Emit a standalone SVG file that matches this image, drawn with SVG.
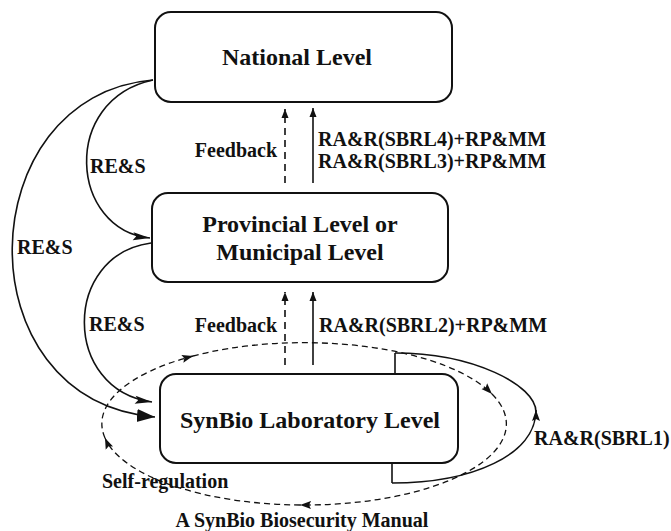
<svg xmlns="http://www.w3.org/2000/svg" width="671" height="531" viewBox="0 0 671 531">
<style>
.box{fill:#fff;stroke:#111;stroke-width:2}
.t{font-family:"Liberation Serif","Times New Roman",serif;font-weight:bold;fill:#111}
.tb{font-size:24px;text-anchor:middle}
.tl{font-size:20px}
.c{fill:none;stroke:#111;stroke-width:1.6}
.d{fill:none;stroke:#111;stroke-width:1.6;stroke-dasharray:7,5}
.e{fill:none;stroke:#111;stroke-width:1.3;stroke-dasharray:6,4}
</style>
<defs>
<marker id="am" markerUnits="userSpaceOnUse" markerWidth="20" markerHeight="20" viewBox="0 0 20 20" refX="18" refY="10" orient="auto"><path d="M1,6 L18,10 L1,14 L4,10 Z" fill="#111"/></marker>
<marker id="al" markerUnits="userSpaceOnUse" markerWidth="20" markerHeight="20" viewBox="0 0 20 20" refX="18" refY="10" orient="auto"><path d="M0,3.5 L18,10 L0,16.5 Z" fill="#111"/></marker>
<marker id="as" markerUnits="userSpaceOnUse" markerWidth="10" markerHeight="10" viewBox="0 0 10 10" refX="9" refY="5" orient="auto"><path d="M0,1.5 L9,5 L0,8.5 Z" fill="#111"/></marker>
<marker id="ae" markerUnits="userSpaceOnUse" markerWidth="12" markerHeight="12" viewBox="0 0 12 12" refX="11" refY="6" orient="auto"><path d="M0,2 L11,6 L0,10 L2,6 Z" fill="#111"/></marker>
</defs>

<g id="connectors">
  <!-- left RE&S curves -->
  <path class="c" d="M153,80 C60,100 70,230 150,238" marker-end="url(#am)"/>
  <path class="c" d="M153,80 C-30,95 -40,400 155,417" marker-end="url(#al)"/>
  <path class="c" d="M151,243 C62,255 62,390 152,402" marker-end="url(#am)"/>
  <!-- upper vertical arrows -->
  <path class="d" d="M285,183 L285,109" marker-end="url(#as)"/>
  <path class="c" d="M313,183 L313,108" marker-end="url(#as)"/>
  <!-- lower vertical arrows -->
  <path class="d" d="M285,365 L285,292" marker-end="url(#as)"/>
  <path class="c" d="M313,365 L313,292" marker-end="url(#as)"/>
  <!-- self-regulation dashed loop -->
  <path class="e" d="M105,438 A202,81 0 0 1 193,356" marker-end="url(#ae)"/>
  <path class="e" d="M193,356 A202,81 0 0 1 492,394" marker-end="url(#ae)"/>
  <path class="e" d="M492,394 A202,81 0 0 1 300,505" marker-end="url(#ae)"/>
  <path class="e" d="M300,505 A202,81 0 0 1 105,438" marker-end="url(#ae)"/>
  <!-- RA&R(SBRL1) loop -->
  <path class="c" d="M395,374 L395,353"/>
  <path class="c" d="M392,463 L392,483"/>
  <path class="c" d="M392,483 C472,483 536,455 536,410" marker-end="url(#ae)"/>
  <path class="c" d="M536,412 C536,385 473,353 395,353"/>
</g>

<g id="national">
  <rect class="box" x="155" y="12" width="297" height="90" rx="16"/>
  <text class="t tb" x="297" y="65">National Level</text>
</g>
<g id="provincial">
  <rect class="box" x="152" y="193" width="296" height="89" rx="16"/>
  <text class="t tb" x="300" y="232">Provincial Level or</text>
  <text class="t tb" x="300" y="260">Municipal Level</text>
</g>
<g id="lab">
  <rect class="box" x="160" y="374" width="298" height="89" rx="16"/>
  <text class="t tb" x="310" y="428">SynBio Laboratory Level</text>
</g>

<g id="labels">
  <text class="t tl" x="90" y="173">RE&amp;S</text>
  <text class="t tl" x="17" y="254">RE&amp;S</text>
  <text class="t tl" x="89" y="331">RE&amp;S</text>
  <text class="t tl" x="277" y="157" text-anchor="end">Feedback</text>
  <text class="t tl" x="318" y="146">RA&amp;R(SBRL4)+RP&amp;MM</text>
  <text class="t tl" x="318" y="168">RA&amp;R(SBRL3)+RP&amp;MM</text>
  <text class="t tl" x="277" y="332" text-anchor="end">Feedback</text>
  <text class="t tl" x="319" y="332">RA&amp;R(SBRL2)+RP&amp;MM</text>
  <text class="t tl" x="534" y="445" font-size="19.5">RA&amp;R(SBRL1)</text>
  <text class="t tl" x="102" y="488">Self-regulation</text>
  <text class="t tl" x="302" y="527" text-anchor="middle">A SynBio Biosecurity Manual</text>
</g>
</svg>
